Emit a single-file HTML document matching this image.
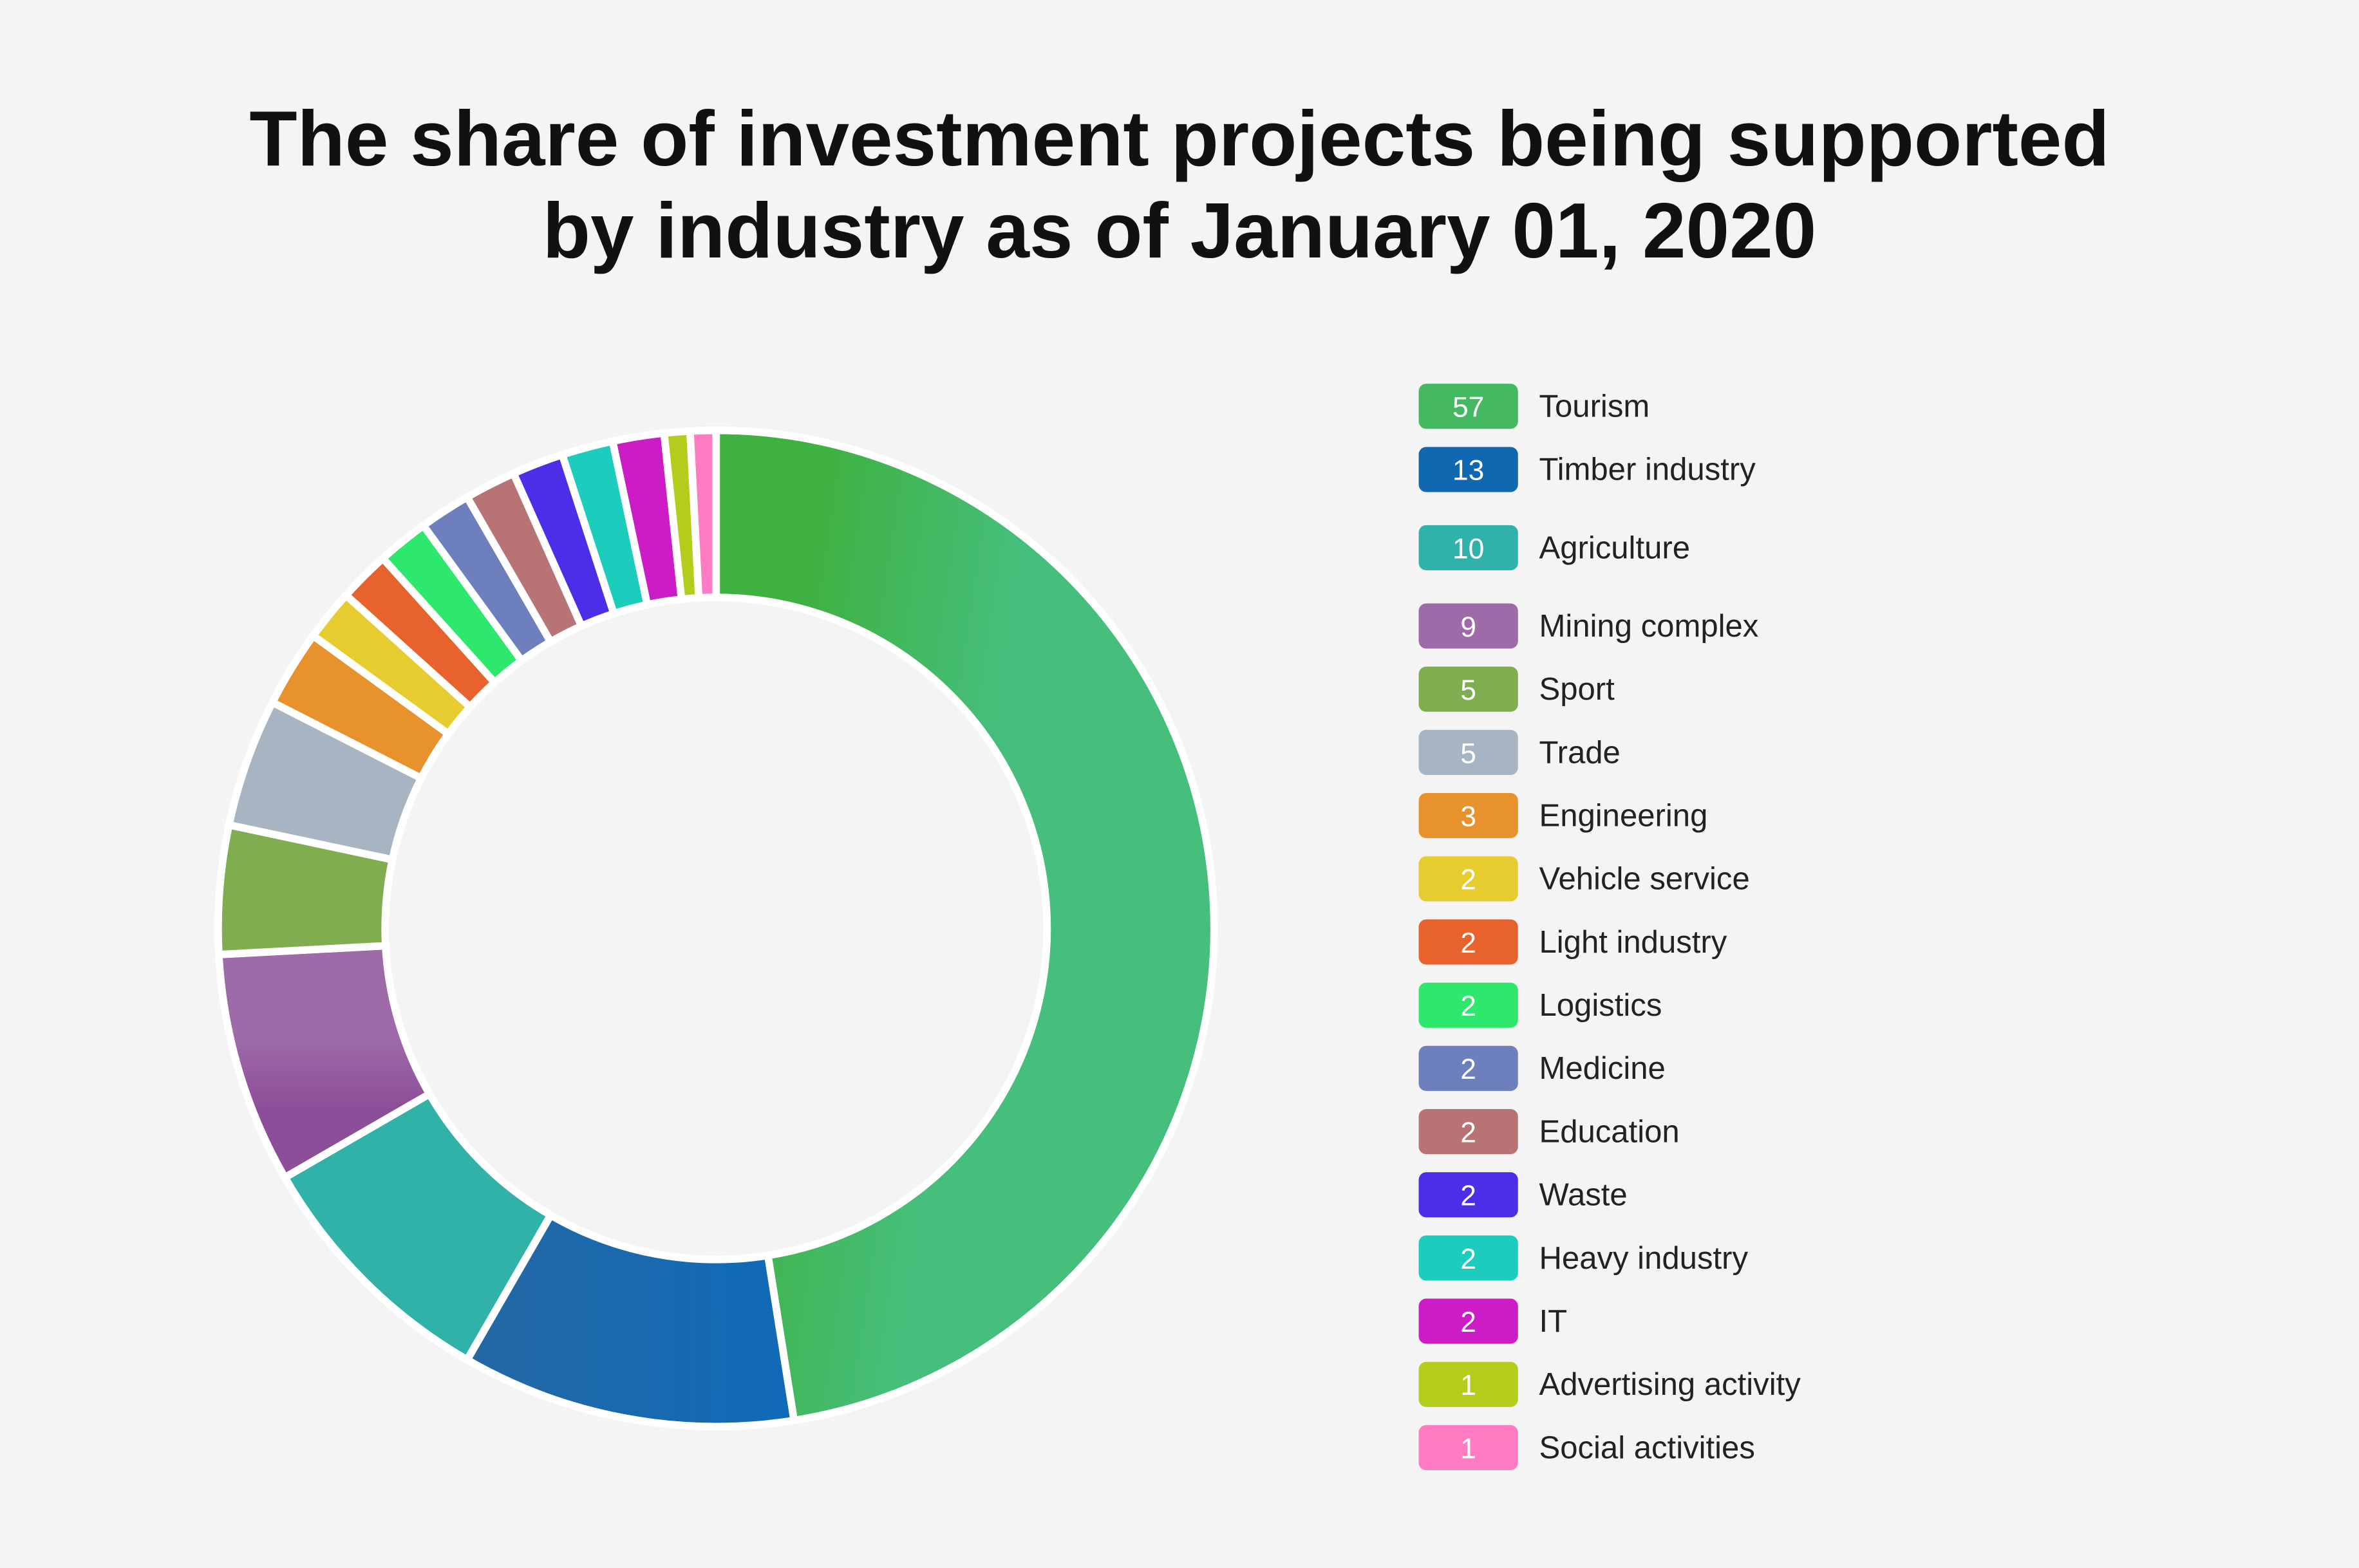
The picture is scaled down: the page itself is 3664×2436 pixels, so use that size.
<!DOCTYPE html>
<html><head><meta charset="utf-8"><style>
html,body{margin:0;padding:0;background:#f4f4f4;}
svg{display:block;}
text{font-family:"Liberation Sans",sans-serif;}
</style></head><body>
<svg id="s" width="3664" height="2436" viewBox="0 0 1568 1042" preserveAspectRatio="none" xmlns="http://www.w3.org/2000/svg">
<defs>
<linearGradient id="g0" x1="0" y1="0" x2="1" y2="0.3"><stop offset="0.2" stop-color="#3fb140"/><stop offset="0.6" stop-color="#46bf7c"/></linearGradient>
<linearGradient id="g1" x1="0" y1="0" x2="1" y2="0"><stop offset="0" stop-color="#2468a4"/><stop offset="1" stop-color="#0f6ab8"/></linearGradient>
<linearGradient id="g3" x1="0" y1="0" x2="0" y2="1"><stop offset="0.4" stop-color="#9e6aa8"/><stop offset="0.7" stop-color="#8c4e98"/></linearGradient>
</defs>
<rect width="1568" height="1042" fill="#f4f4f4"/>
<text x="784" y="110" text-anchor="middle" font-size="52" font-weight="bold" fill="#111">The share of investment projects being supported</text>
<text x="784" y="171" text-anchor="middle" font-size="52" font-weight="bold" fill="#111">by industry as of January 01, 2020</text>
<g id="pie"></g>
<g id="leg"></g>
</svg>
<script>
var d=[[57,"Tourism","url(#g0)","#45b862"],[13,"Timber industry","url(#g1)","#1268b0"],[10,"Agriculture","#30b2a8"],[9,"Mining complex","url(#g3)","#9e6aa8"],[5,"Sport","#7fad4f"],[5,"Trade","#a7b4c2"],[3,"Engineering","#e8922e"],[2,"Vehicle service","#e6cc2e"],[2,"Light industry","#e8622e"],[2,"Logistics","#2ee86e"],[2,"Medicine","#6e7fbd"],[2,"Education","#b87474"],[2,"Waste","#4a2ee8"],[2,"Heavy industry","#1ccdbd"],[2,"IT","#cc1cc5"],[1,"Advertising activity","#b4cc1c"],[1,"Social activities","#ff7bc2"]];
var cx=476,cy=617,R=331,r=220,tot=120,a=0,pie=document.getElementById('pie'),leg=document.getElementById('leg'),h='',l='';
function p(rad,ang){return [cx+rad*Math.sin(ang),cy-rad*Math.cos(ang)];}
var ys=[270,312,364,416,458,500,542,584,626,668,710,752,794,836,878,920,962];
d.forEach(function(e,i){
 var a0=a/tot*2*Math.PI;a+=e[0];var a1=a/tot*2*Math.PI;var lg=(a1-a0)>Math.PI?1:0;
 var o0=p(R,a0),o1=p(R,a1),i1=p(r,a1),i0=p(r,a0);
 h+='<path d="M'+o0+' A'+R+','+R+' 0 '+lg+' 1 '+o1+' L'+i1+' A'+r+','+r+' 0 '+lg+' 0 '+i0+' Z" fill="'+e[2]+'" stroke="#fff" stroke-width="5" stroke-linejoin="round"/>';
 var c=e[3]||e[2],y=ys[i];
 l+='<rect x="943" y="'+(y-15)+'" width="66" height="30" rx="5" fill="'+c+'"/>';
 l+='<text x="976" y="'+(y+7)+'" text-anchor="middle" font-size="19" font-weight="500" fill="#fff">'+e[0]+'</text>';
 l+='<text x="1023" y="'+(y+7)+'" font-size="21" fill="#222">'+e[1]+'</text>';
});
pie.innerHTML=h;leg.innerHTML=l;
</script>
</body></html>
